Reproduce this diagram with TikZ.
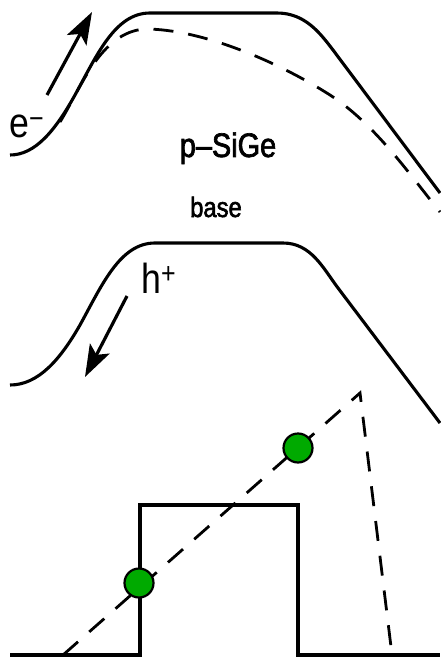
\documentclass[tikz,border=0pt]{standalone}
\usepackage{fontspec}
\setmainfont{Liberation Sans}[FakeStretch=0.85]
\newfontfamily\heavyfont{Liberation Sans}[FakeStretch=0.85,FakeBold=2]
\usetikzlibrary{arrows.meta}
\definecolor{ink}{RGB}{0,0,0}
\definecolor{dotgreen}{RGB}{0,170,0}
\tikzset{
  band/.style={draw=ink,line width=3.1pt},
  band dashed/.style={draw=ink,line width=2.8pt,dash pattern=on 20pt off 15pt},
  carrier/.style={-{Stealth[length=32pt,width=22pt,inset=7pt]},draw=ink,line width=3.2pt},
  lbl/.style={inner sep=0pt,text=ink,font=\fontsize{#1}{#1}\selectfont},
  dot/.style={circle,draw=ink,line width=2.2pt,fill=dotgreen,minimum size=29pt,inner sep=0pt},
}
\begin{document}
\begin{tikzpicture}[x=1pt,y=-1pt]
  \useasboundingbox (0,0) rectangle (440,658);
  % bands
  \draw[band] (10,155) .. controls (35,155) and (55,131) .. (75,95) .. controls (97,55) and (115,13) .. (150,13)
    -- (277,13) .. controls (305,13) and (320,33) .. (333,50) -- (440,193);
  \draw[band dashed] (60,122) .. controls (80,90) and (100,32) .. (145,29) .. controls (200,29) and (275,60) .. (330,95)
    .. controls (375,124) and (410,175) .. (440,212);
  \draw[band] (10,385) .. controls (38,385) and (60,360) .. (80,325) .. controls (102,285) and (120,243) .. (155,243)
    -- (283,243) .. controls (311,243) and (323,268) .. (338,288) -- (440,423);
  % carriers
  \coordinate (etail) at (47,95);
  \coordinate (ehead) at (92,12);
  \coordinate (htail) at (127,296);
  \coordinate (hhead) at (85,377);
  \draw[carrier] (etail) -- (ehead);
  \draw[carrier] (htail) -- (hhead);
  \node[lbl=42pt,anchor=base west] (elec) at (9,138) {e\textsuperscript{−}};
  \node[lbl=42pt,anchor=base west] (hole) at (141,293) {h\textsuperscript{+}};
  \node[lbl=34pt,anchor=base] (layer) at (228,157) {\heavyfont p–SiGe};
  \node[lbl=28pt,anchor=base] (region) at (216,217) {\heavyfont base};
  % profiles
  \draw[band] (10,655) -- (140,655) -- (140,505) -- (298,505) -- (298,655) -- (440,655);
  \coordinate (ge0) at (63,655);
  \coordinate (gepk) at (360,393);
  \coordinate (ge1) at (392,655);
  \draw[band dashed] (ge0) -- (gepk) -- (ge1);
  \node[dot] (dleft) at (139,583) {};
  \node[dot] (dright) at (298,448) {};
\end{tikzpicture}
\end{document}
